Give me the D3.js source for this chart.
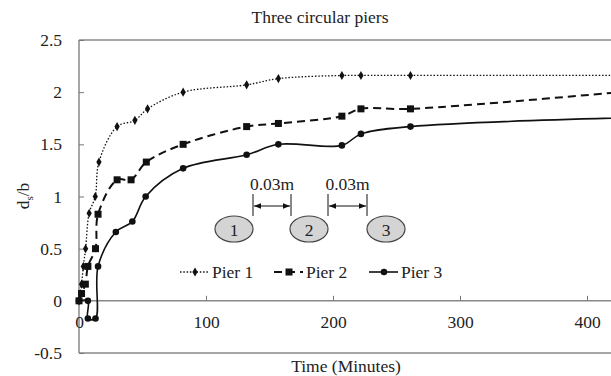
<!DOCTYPE html>
<html>
<head>
<meta charset="utf-8">
<title>Three circular piers</title>
<script src="https://d3js.org/d3.v7.min.js" charset="utf-8"></script>
<style>
    body { margin: 0; background: #fff; }
    .tick line { stroke: #777; }
    .frame { stroke: #888; stroke-width: 1.5px; fill: none; }
</style>
</head>
<body>
<script>
    var width = 611, height = 376;
    var serif = "'Liberation Serif'";

    // data
    var t1 = [0, 2, 3.4, 5.2, 8, 12.8, 15.7, 30, 44, 54, 82, 132, 157, 207, 222, 261, 480];
    var pier1 = [0, 0.16, 0.33, 0.5, 0.84, 1.0, 1.33, 1.67, 1.73, 1.84, 2.0, 2.07, 2.13, 2.16, 2.16, 2.16, 2.16];
    var t2 = [0, 2, 5, 7, 13, 15, 30, 41, 53, 82, 132, 157, 207, 222, 261, 480];
    var pier2 = [0, 0.07, 0.16, 0.33, 0.5, 0.83, 1.16, 1.16, 1.33, 1.5, 1.67, 1.70, 1.77, 1.84, 1.84, 2.06];
    var t3 = [0, 7, 7, 13, 15, 29, 42, 52.5, 82, 132, 157, 207, 222, 261, 480];
    var pier3 = [0, 0, -0.17, -0.17, 0.33, 0.66, 0.76, 1.0, 1.27, 1.4, 1.5, 1.49, 1.6, 1.67, 1.77];

    var xTicks = [0, 100, 200, 300, 400];
    var yTicks = [-0.5, 0, 0.5, 1, 1.5, 2, 2.5];
    var yTickLabels = ["-0.5", "0", "0.5", "1", "1.5", "2", "2.5"];

    var x = d3.scaleLinear().domain([0, 400]).range([79, 587]);
    var y = d3.scaleLinear().domain([-0.5, 2.5]).range([353, 40]);

    var svg = d3.select("body").append("svg")
        .attr("width", width)
        .attr("height", height);

    svg.append("defs").append("clipPath").attr("id", "plot")
        .append("rect")
        .attr("x", x(0) - 6).attr("y", y(2.5))
        .attr("width", width - x(0) + 6).attr("height", y(-0.5) - y(2.5));

    // frame
    svg.append("line").attr("class", "frame")
        .attr("x1", x(0)).attr("x2", width).attr("y1", y(2.5)).attr("y2", y(2.5));
    svg.append("line").attr("class", "frame")
        .attr("x1", x(0)).attr("x2", width).attr("y1", y(-0.5)).attr("y2", y(-0.5));
    svg.append("line").attr("class", "frame")
        .attr("x1", x(0)).attr("x2", width).attr("y1", y(0)).attr("y2", y(0));
    svg.append("line").attr("class", "frame")
        .attr("x1", x(0)).attr("x2", x(0)).attr("y1", y(2.5)).attr("y2", y(-0.5));

    // axes
    var yAxis = svg.append("g")
        .attr("transform", "translate(" + x(0) + ",0)")
        .call(d3.axisLeft(y).tickValues(yTicks).tickSize(-5).tickPadding(17)
            .tickFormat(function(d, i) { return yTickLabels[i]; }));
    yAxis.select(".domain").remove();

    var xAxis = svg.append("g")
        .attr("transform", "translate(0," + y(0) + ")")
        .call(d3.axisBottom(x).tickValues(xTicks).tickSize(-5).tickPadding(15));
    xAxis.select(".domain").remove();
    xAxis.selectAll(".tick line").filter(function(d) { return d === 0; }).remove();

    svg.selectAll(".tick text")
        .style("font-family", serif).style("font-size", "17.5px").attr("fill", "#222");

    // titles
    svg.append("text").attr("x", 320).attr("y", 23)
        .attr("text-anchor", "middle")
        .style("font-family", serif).style("font-size", "17.5px").attr("fill", "#222")
        .text("Three circular piers");
    svg.append("text").attr("x", 346).attr("y", 372)
        .attr("text-anchor", "middle")
        .style("font-family", serif).style("font-size", "17.5px").attr("fill", "#222")
        .text("Time (Minutes)");
    var yl = svg.append("text")
        .attr("transform", "translate(29,196) rotate(-90)")
        .attr("text-anchor", "middle")
        .style("font-family", serif).style("font-size", "17.5px").attr("fill", "#222");
    yl.append("tspan").text("d");
    yl.append("tspan").attr("dy", 4).style("font-size", "11px").text("s");
    yl.append("tspan").attr("dy", -4).text("/b");

    // series
    var series = [
        { name: "Pier 1", t: t1, v: pier1, dash: "1.5,1.8", width: 1.3, marker: "diamond" },
        { name: "Pier 2", t: t2, v: pier2, dash: "8,5", width: 2, marker: "square" },
        { name: "Pier 3", t: t3, v: pier3, dash: null, width: 1.6, marker: "circle" }
    ];

    var line = d3.line()
        .x(function(d) { return x(d[0]); })
        .y(function(d) { return y(d[1]); })
        .curve(d3.curveCatmullRom.alpha(0.5));

    function drawMarker(g, type, cx, cy) {
        if (type === "diamond") {
            g.append("path")
                .attr("d", d3.symbol().type(d3.symbolDiamond).size(24)())
                .attr("transform", "translate(" + cx + "," + cy + ")")
                .attr("fill", "#111");
        } else if (type === "square") {
            g.append("rect")
                .attr("x", cx - 3.5).attr("y", cy - 3.5)
                .attr("width", 7).attr("height", 7).attr("fill", "#111");
        } else {
            g.append("circle").attr("cx", cx).attr("cy", cy).attr("r", 3.3).attr("fill", "#111");
        }
    }

    var plot = svg.append("g").attr("clip-path", "url(#plot)");

    series.forEach(function(s) {
        var pts = s.t.map(function(t, i) { return [t, s.v[i]]; });
        plot.append("path")
            .attr("d", line(pts))
            .attr("fill", "none")
            .attr("stroke", "#111")
            .attr("stroke-width", s.width)
            .attr("stroke-dasharray", s.dash);
        pts.forEach(function(p) { drawMarker(plot, s.marker, x(p[0]), y(p[1])); });
    });

    // legend
    var legendX = [180, 274, 369];
    var legY = 272;
    series.forEach(function(s, i) {
        var lx = legendX[i];
        svg.append("line")
            .attr("x1", lx).attr("x2", lx + 29).attr("y1", legY).attr("y2", legY)
            .attr("stroke", "#111").attr("stroke-width", s.width)
            .attr("stroke-dasharray", s.dash);
        drawMarker(svg, s.marker, lx + 15, legY);
        svg.append("text").attr("x", lx + 32).attr("y", legY + 6)
            .style("font-family", serif).style("font-size", "17.5px").attr("fill", "#222")
            .text(s.name);
    });

    // pier sketch
    var pierCx = [234, 309, 386];
    var pierLabels = ["1", "2", "3"];
    pierCx.forEach(function(cx, i) {
        svg.append("ellipse").attr("cx", cx).attr("cy", 229).attr("rx", 19).attr("ry", 13)
            .attr("fill", "#d4d4d4").attr("stroke", "#444").attr("stroke-width", 1.2);
        svg.append("text").attr("x", cx).attr("y", 236).attr("text-anchor", "middle")
            .style("font-family", serif).style("font-size", "17.5px").attr("fill", "#222")
            .text(pierLabels[i]);
    });

    var arrow = svg.append("defs");
    arrow.append("marker").attr("id", "ah").attr("viewBox", "0 0 10 10")
        .attr("refX", 10).attr("refY", 5).attr("markerWidth", 7).attr("markerHeight", 7)
        .attr("orient", "auto-start-reverse")
        .append("path").attr("d", "M0,1 L10,5 L0,9 Z").attr("fill", "#111");

    var gaps = [[253, 291], [328, 367]];
    gaps.forEach(function(g) {
        [g[0], g[1]].forEach(function(px) {
            svg.append("line").attr("x1", px).attr("x2", px).attr("y1", 194).attr("y2", 216)
                .attr("stroke", "#111").attr("stroke-width", 1);
        });
        svg.append("line").attr("x1", g[0] + 1).attr("x2", g[1] - 1).attr("y1", 206).attr("y2", 206)
            .attr("stroke", "#111").attr("stroke-width", 1)
            .attr("marker-start", "url(#ah)").attr("marker-end", "url(#ah)");
        svg.append("text").attr("x", (g[0] + g[1]) / 2).attr("y", 190)
            .attr("text-anchor", "middle")
            .style("font-family", serif).style("font-size", "17.5px").attr("fill", "#222")
            .text("0.03m");
    });
</script>
</body>
</html>
